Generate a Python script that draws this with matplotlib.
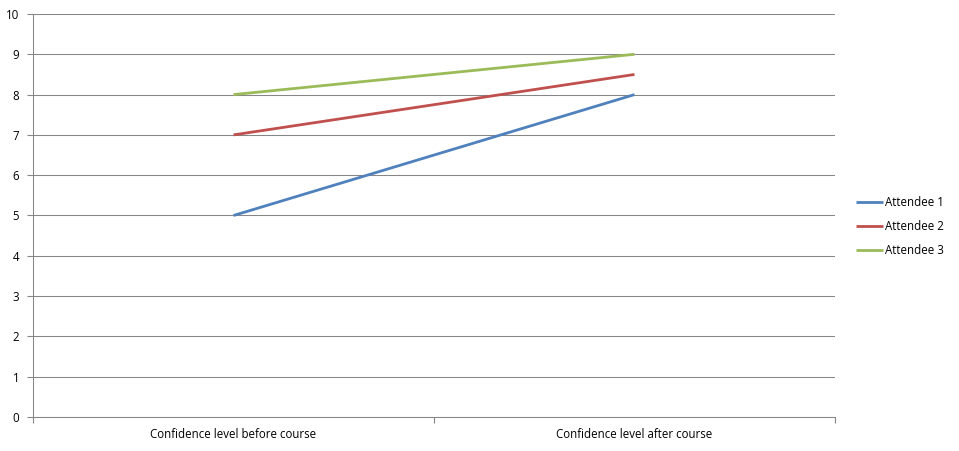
import matplotlib
matplotlib.use("Agg")
import matplotlib.pyplot as plt

categories = ["Confidence level before course", "Confidence level after course"]
series_names = ["Attendee 1", "Attendee 2", "Attendee 3"]
attendee1 = [5, 8]
attendee2 = [7, 8.5]
attendee3 = [8, 9]
colors = ["#4F81BD", "#C0504D", "#9BBB59"]

plt.rcParams['font.family'] = ['Open Sans', 'DejaVu Sans']

fig = plt.figure(figsize=(9.59, 4.51), dpi=100)
ax = fig.add_axes([33/959, 1-417/451, (835-33)/959, (417-14)/451])

x = list(range(len(categories)))
for name, vals, c in zip(series_names, [attendee1, attendee2, attendee3], colors):
    ax.plot(x, vals, color=c, lw=2.0, label=name, solid_capstyle='butt')

ax.set_xlim(-0.5, len(categories) - 0.5)
ax.set_ylim(0, 10)
ax.set_yticks(range(0, 11))
ax.yaxis.grid(True, color="#868686", lw=0.75)
ax.set_axisbelow(True)
ax.set_xticks([i - 0.5 for i in range(len(categories) + 1)])
ax.set_xticklabels([])
ax.set_xticks(x, minor=True)
ax.set_xticklabels(categories, minor=True, fontsize=8.3)
ax.tick_params(axis='x', which='minor', length=0, pad=8)
ax.tick_params(axis='x', which='major', length=4, color="#868686")
ax.tick_params(axis='y', length=4, color="#868686", labelsize=8.3, pad=6)
for s in ["top", "right"]:
    ax.spines[s].set_visible(False)
for s in ["left", "bottom"]:
    ax.spines[s].set_color("#868686")
    ax.spines[s].set_linewidth(0.75)

leg = fig.legend(loc="upper left", bbox_to_anchor=(846/959, 1-186/451), frameon=False,
                 fontsize=8.3, handlelength=2.3, handletextpad=0.2, labelspacing=0.95)

fig.savefig("out.png", dpi=100)
